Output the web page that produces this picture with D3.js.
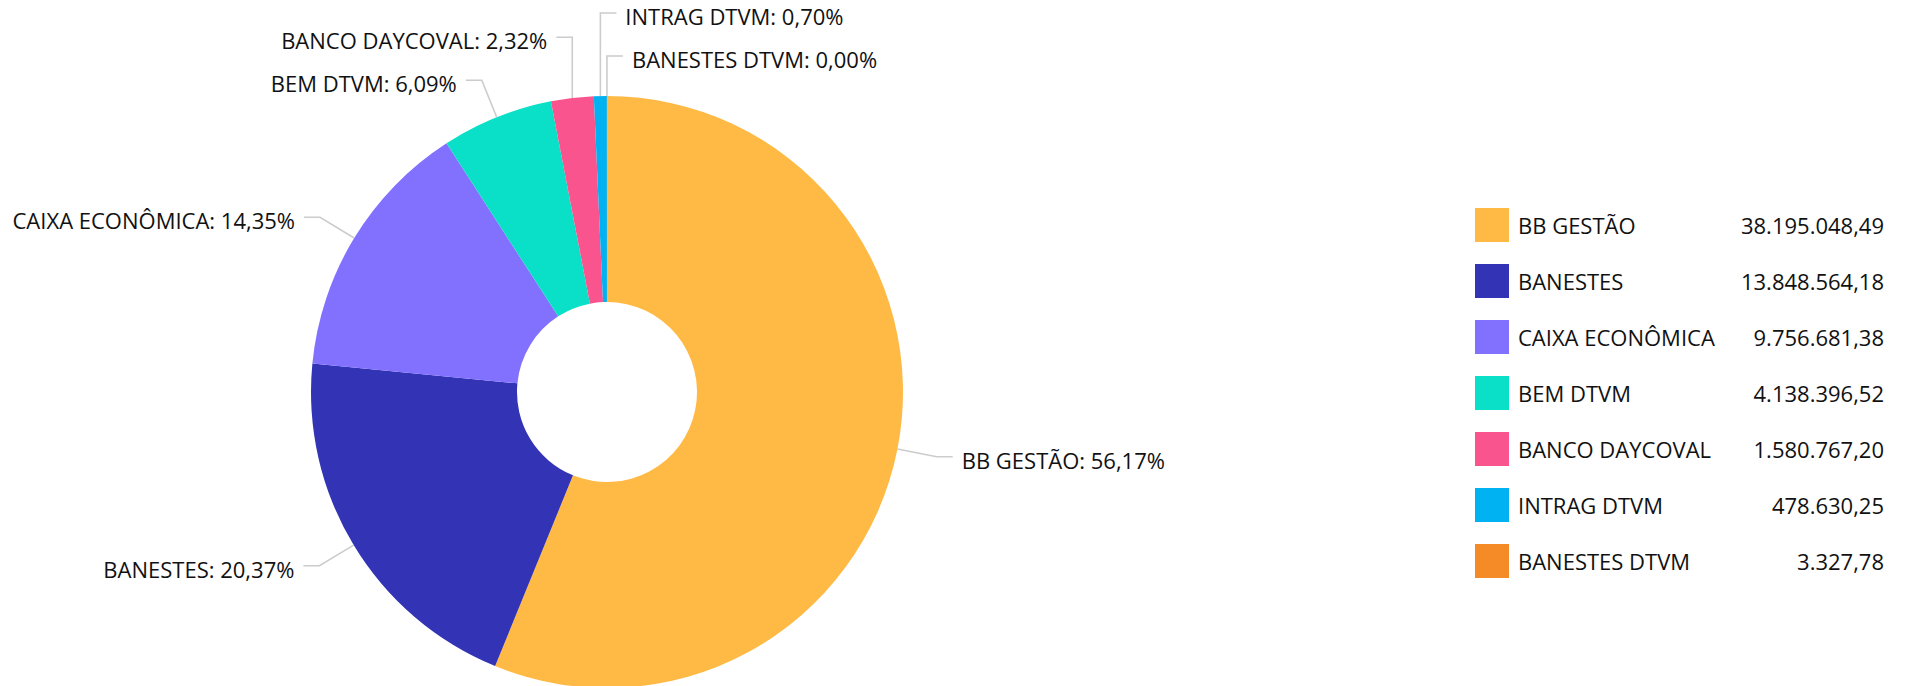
<!DOCTYPE html>
<html>
<head>
<meta charset="utf-8">
<script src="https://cdn.jsdelivr.net/npm/d3@7/dist/d3.min.js"></script>
<style>
  html, body { margin: 0; padding: 0; background: #fff; }
  svg { display: block; }
  text { font-family: "Open Sans", "Noto Sans", sans-serif; }
</style>
</head>
<body>
<svg id="chart" width="1907" height="686"></svg>
<script>
const categories = ["BB GESTÃO", "BANESTES", "CAIXA ECONÔMICA", "BEM DTVM", "BANCO DAYCOVAL", "INTRAG DTVM", "BANESTES DTVM"];
const values = [38195048.49, 13848564.18, 9756681.38, 4138396.52, 1580767.20, 478630.25, 3327.78];
const colors = ["#FFBA45", "#3333B5", "#8270FF", "#09E0C7", "#F9548E", "#00B2F2", "#F58B26"];

const W = 1907, H = 686;
const cx = 607, cy = 392, R = 296, R0 = 90;
const bendR = 336, len2 = 16, gap = 9, spacing = 43;

const locale = d3.formatLocale({ decimal: ",", thousands: ".", grouping: [3], currency: ["R$", ""] });
const fmtVal = locale.format(",.2f");
const fmtPct = locale.format(".2f");

const svg = d3.select("#chart");
const data = categories.map((c, i) => ({ name: c, value: values[i], color: colors[i] }));
const total = d3.sum(values);

const pie = d3.pie().sort(null).value(d => d.value);
const arcs = pie(data);
const arcGen = d3.arc().innerRadius(R0).outerRadius(R);

const g = svg.append("g").attr("transform", `translate(${cx},${cy})`);
g.selectAll("path.slice").data(arcs).enter().append("path")
  .attr("class", "slice")
  .attr("d", arcGen)
  .attr("fill", d => d.data.color);

// label layout
arcs.forEach(a => {
  a.mid = (a.startAngle + a.endAngle) / 2;
  const s = Math.sin(a.mid), c = Math.cos(a.mid);
  a.arcPt = [cx + R * s, cy - R * c];
  a.bend = [cx + bendR * s, cy - bendR * c];
  a.side = s > -0.05 ? 1 : -1;
  a.signed = a.mid > Math.PI * 1.5 ? a.mid - 2 * Math.PI : a.mid;
  a.y = a.bend[1];
  a.shifted = false;
});

function layoutSide(list) {
  // list is ordered top to bottom
  const above = list.filter(a => a.bend[1] < cy);
  const below = list.filter(a => a.bend[1] >= cy);
  for (let i = above.length - 2; i >= 0; i--) {
    const lim = above[i + 1].y - spacing;
    if (above[i].y > lim) { above[i].y = lim; above[i].shifted = true; }
  }
  for (let i = 1; i < below.length; i++) {
    const lim = below[i - 1].y + spacing;
    if (below[i].y < lim) { below[i].y = lim; below[i].shifted = true; }
  }
}
const right = arcs.filter(a => a.side === 1).sort((a, b) => a.signed - b.signed);
const left = arcs.filter(a => a.side === -1).sort((a, b) => b.mid - a.mid);
layoutSide(right);
layoutSide(left);

arcs.forEach(a => {
  const bx = a.shifted ? a.arcPt[0] : a.bend[0];
  const ex = bx + a.side * len2;
  a.pts = [a.arcPt, [bx, a.y], [ex, a.y]];
  a.tx = ex + a.side * gap;
});

const lg = svg.append("g");
lg.selectAll("path.line").data(arcs).enter().append("path")
  .attr("d", d => d3.line()(d.pts))
  .attr("fill", "none")
  .attr("stroke", "#cccccc")
  .attr("stroke-width", 1.6);

lg.selectAll("text.lbl").data(arcs).enter().append("text")
  .attr("class", "lbl")
  .attr("x", d => d.tx)
  .attr("y", d => d.y + 12)
  .attr("text-anchor", d => d.side === 1 ? "start" : "end")
  .attr("font-size", 22)
  .attr("fill", "#111")
  .text(d => `${d.data.name}: ${fmtPct(d.data.value / total * 100)}%`);

// legend
const legX = 1475, legY = 225, legStep = 56, sw = 34, valX = 1884;
const leg = svg.append("g").selectAll("g").data(data).enter().append("g")
  .attr("transform", (d, i) => `translate(0,${legY + i * legStep})`);
leg.append("rect").attr("x", legX).attr("y", -sw / 2).attr("width", sw).attr("height", sw).attr("fill", d => d.color);
leg.append("text").attr("x", legX + 43).attr("y", 9).attr("font-size", 22).attr("fill", "#111").text(d => d.name);
leg.append("text").attr("x", valX).attr("y", 9).attr("font-size", 22).attr("fill", "#111").attr("text-anchor", "end").text(d => fmtVal(d.value));
</script>
</body>
</html>
